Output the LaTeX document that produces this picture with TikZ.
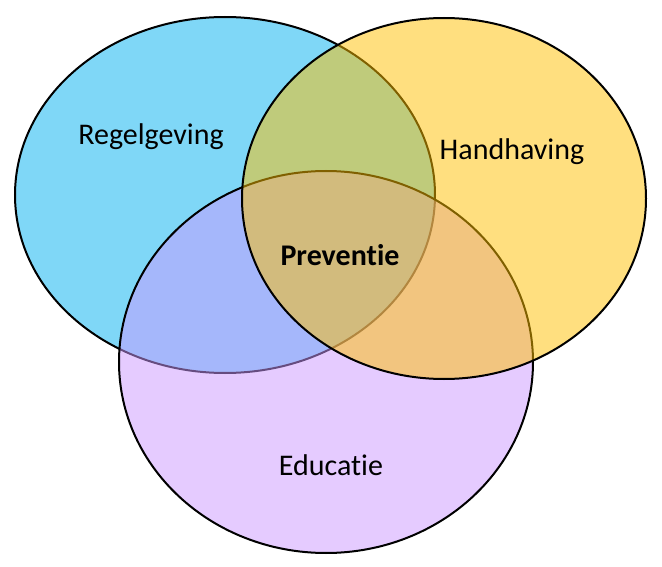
\documentclass[tikz,border=0pt]{standalone}
\usepackage{fontspec}
\setmainfont[Ligatures=NoCommon]{Carlito}
\definecolor{cblue}{HTML}{00B0F0}
\definecolor{cyellow}{HTML}{FFC000}
\definecolor{cpurple}{HTML}{CC99FF}
\begin{document}
\begin{tikzpicture}[x=1pt,y=-1pt,
  setbox/.style={draw=black,line width=2pt,fill opacity=0.5},
  lbl/.style={font=\fontsize{30}{36}\selectfont,inner sep=0pt}]
\useasboundingbox (0,0) rectangle (662,567);
\fill[white] (0,0) rectangle (662,567);
\path[setbox,fill=cblue] (225,195) ellipse [x radius=210,y radius=178];
\path[setbox,fill=cpurple] (326,362) ellipse [x radius=207,y radius=191];
\path[setbox,fill=cyellow] (444,198.5) ellipse [x radius=202,y radius=180.5];
\node[lbl] (reg) at (151,137) {Regelgeving};
\node[lbl] (hand) at (512,152) {Handhaving};
\node[lbl,font=\fontsize{30}{36}\selectfont\bfseries] (prev) at (340,255) {Preventie};
\node[lbl] (edu) at (331,465) {Educatie};
\end{tikzpicture}
\end{document}
